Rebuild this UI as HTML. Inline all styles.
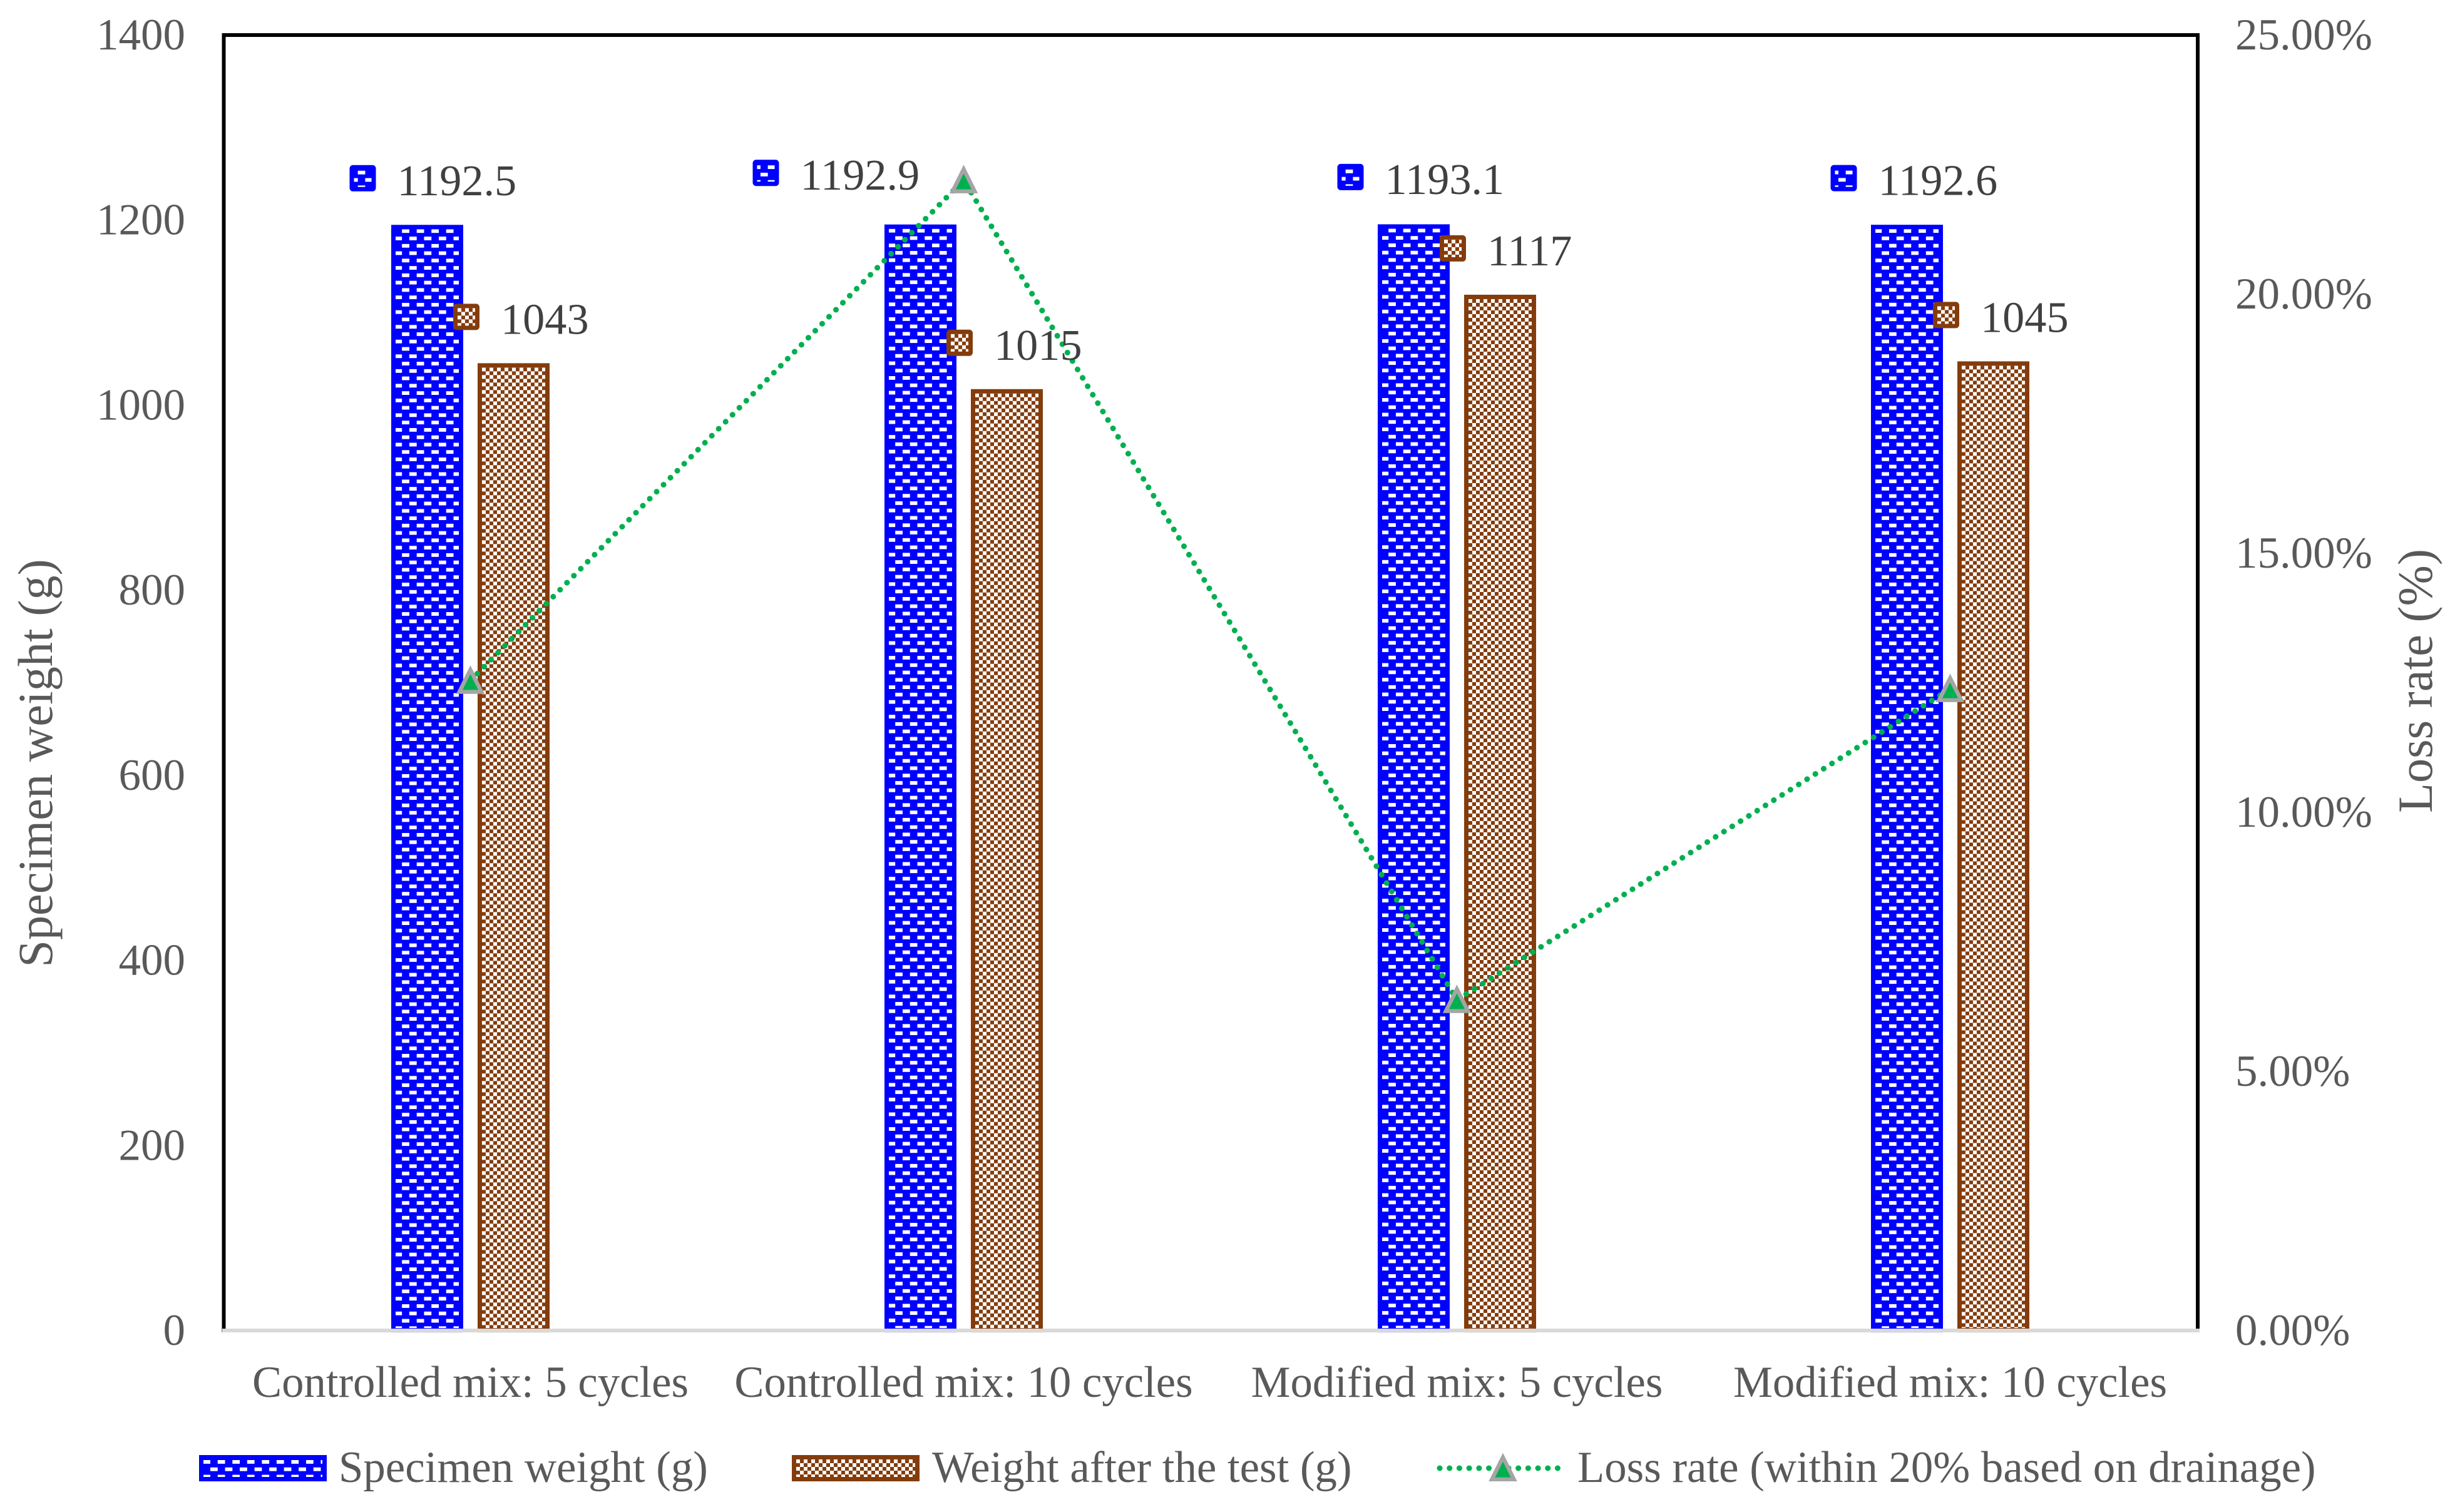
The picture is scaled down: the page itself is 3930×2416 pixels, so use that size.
<!DOCTYPE html>
<html lang="en">
<head>
<meta charset="utf-8">
<title>Specimen weight and loss rate chart</title>
<style>
html,body{margin:0;padding:0;background:#fff;}
svg{display:block;font-family:"Liberation Serif",serif;}
.tick{font-size:71px;fill:#595959;}
.x-tick{font-size:70.7px;fill:#595959;}
.legend-text{font-size:70.8px;fill:#595959;}
.axis-title{font-size:78.3px;fill:#595959;}
.data-label{font-size:70.3px;fill:#404040;}
</style>
</head>
<body>
<svg id="chart" xmlns="http://www.w3.org/2000/svg" width="3930" height="2416" viewBox="0 0 3930 2416">
  <defs>
    <pattern id="blue-bar-a" patternUnits="userSpaceOnUse" x="5.4" y="7" width="23.53" height="23.53">
      <rect width="23.53" height="23.53" fill="#0000ff" shape-rendering="crispEdges"/>
      <rect x="11.6" y="0" width="11.93" height="6" fill="#fff" shape-rendering="crispEdges"/>
      <rect x="0" y="11.77" width="12" height="6" fill="#fff" shape-rendering="crispEdges"/>
    </pattern>
    <pattern id="blue-bar-b" href="#blue-bar-a" x="17.2"></pattern>
    <pattern id="blue-marker-a" href="#blue-bar-a" x="1.4" y="9"></pattern>
    <pattern id="blue-marker-b" href="#blue-bar-a" x="12.4" y="9"></pattern>
    <pattern id="blue-legend" href="#blue-bar-a" x="18" y="8"></pattern>
    <pattern id="brown-check" patternUnits="userSpaceOnUse" x="7" y="7" width="12" height="12">
      <rect width="12" height="12" fill="#fff" shape-rendering="crispEdges"/>
      <rect x="6" y="0" width="6" height="6" fill="#843c0c" shape-rendering="crispEdges"/>
      <rect x="0" y="6" width="6" height="6" fill="#843c0c" shape-rendering="crispEdges"/>
    </pattern>
  </defs>
  <rect width="3930" height="2416" fill="#fff"/>
  <g id="bars"></g>
  <g id="axes">
    <rect x="357.5" y="56" width="3153.5" height="2070" fill="none" stroke="#000" stroke-width="6"/>
    <line x1="355" y1="2126" x2="3514" y2="2126" stroke="#d9d9d9" stroke-width="6"/>
  </g>
  <g id="y-left-ticks"></g>
  <g id="y-right-ticks"></g>
  <g id="x-ticks"></g>
  <text class="axis-title" text-anchor="middle" transform="translate(83,1219.5) rotate(-90)">Specimen weight (g)</text>
  <text class="axis-title" text-anchor="middle" transform="translate(3885,1088) rotate(-90)">Loss rate (%)</text>
  <g id="loss-series"></g>
  <g id="labels"></g>
  <g id="legend">
    <g>
      <rect transform="translate(318,2325)" x="3.5" y="3.5" width="197" height="35" fill="url(#blue-legend)" stroke="#0000ff" stroke-width="7"/>
      <text class="legend-text" x="541" y="2368">Specimen weight (g)</text>
    </g>
    <g>
      <rect transform="translate(1265,2325)" x="3.5" y="3.5" width="197" height="35" fill="url(#brown-check)" stroke="#843c0c" stroke-width="7"/>
      <text class="legend-text" x="1489" y="2368">Weight after the test (g)</text>
    </g>
    <g>
      <line x1="2300" y1="2346" x2="2495" y2="2346" stroke="#00b050" stroke-width="9" stroke-linecap="round" stroke-dasharray="0.1 15.6"/>
      <polygon transform="translate(2401,2346)" points="0,-17.5 -17.7,17.85 17.7,17.85" fill="#00b050" stroke="#a5a5a5" stroke-width="6.3"/>
      <text class="legend-text" x="2520" y="2368">Loss rate (within 20% based on drainage)</text>
    </g>
  </g>
</svg>
<script>
const categories = ["Controlled mix: 5 cycles", "Controlled mix: 10 cycles", "Modified mix: 5 cycles", "Modified mix: 10 cycles"];
const specimenWeight = [1192.5, 1192.9, 1193.1, 1192.6];
const weightAfterTest = [1043, 1015, 1117, 1045];
const lossRate = [12.54, 22.2, 6.38, 12.38];
const leftTickValues = [0, 200, 400, 600, 800, 1000, 1200, 1400];
const rightTickValues = [0, 5, 10, 15, 20, 25];

const NS = "http://www.w3.org/2000/svg";
const plotLeft = 357.5, bandWidth = 788, plotBottom = 2126, plotHeight = 2070;
const leftMax = 1400, rightMax = 25;
const barOffset = 69, barOuterWidth = 115;

// Manually placed data-label callouts, relative to each bar top.
const blueCalloutDx = [-103, -247, -101, -101];
const blueCalloutDy = [-78, -86, -79, -78];
const brownCalloutDx = -75.5, brownCalloutDy = -77.5;

function xBand(i) { return plotLeft + bandWidth * (i + 0.5); }
function yLeft(v) { return plotBottom - v * plotHeight / leftMax; }
function yRight(p) { return plotBottom - p * plotHeight / rightMax; }
function brickPhase(i) { return i % 2 === 0 ? "a" : "b"; }

function make(tag, attrs, parent, text) {
  const node = document.createElementNS(NS, tag);
  for (const k in attrs) node.setAttribute(k, attrs[k]);
  if (text !== undefined) node.textContent = text;
  parent.appendChild(node);
  return node;
}

const barsGroup = document.getElementById("bars");
const labelsGroup = document.getElementById("labels");
const leftGroup = document.getElementById("y-left-ticks");
const rightGroup = document.getElementById("y-right-ticks");
const xGroup = document.getElementById("x-ticks");
const lossGroup = document.getElementById("loss-series");

function drawBar(cx, value, fillId, strokeColor, name) {
  const top = yLeft(value);
  const r = make("rect", {
    transform: "translate(" + (cx - barOuterWidth / 2) + "," + (top - 3.5) + ")",
    x: 3.5, y: 3.5, width: barOuterWidth - 7, height: plotBottom - 0.4 - top,
    fill: "url(#" + fillId + ")", stroke: strokeColor, "stroke-width": 7
  }, barsGroup);
  
  
}

function drawCallout(mx, my, value, fillId, strokeColor, name) {
  const m = make("rect", {
    transform: "translate(" + (mx - 21) + "," + (my - 21) + ")",
    x: 3.5, y: 3.5, width: 35, height: 35, rx: 2,
    fill: "url(#" + fillId + ")", stroke: strokeColor, "stroke-width": 7
  }, labelsGroup);
  
  
  const t = make("text", { class: "data-label", x: mx + 55, y: my + 27 }, labelsGroup, String(value));
  
  
}

categories.forEach(function (cat, i) {
  const c = xBand(i);
  drawBar(c - barOffset, specimenWeight[i], "blue-bar-" + brickPhase(i), "#0000ff", "bar-specimen-weight-" + (i + 1));
  drawBar(c + barOffset, weightAfterTest[i], "brown-check", "#843c0c", "bar-weight-after-test-" + (i + 1));
  const label = make("text", { class: "x-tick", x: c, y: 2232, "text-anchor": "middle" }, xGroup, cat);
  
  
});

leftTickValues.forEach(function (v) {
  const t = make("text", { class: "tick", x: 296, y: yLeft(v) + 23, "text-anchor": "end" }, leftGroup, String(v));
  
  
});

rightTickValues.forEach(function (v) {
  const t = make("text", { class: "tick", x: 3571, y: yRight(v) + 23 }, rightGroup, v.toFixed(2) + "%");
  
  
});

const linePoints = lossRate.map(function (p, i) { return xBand(i) + "," + yRight(p); }).join(" ");
const lossLine = make("polyline", {
  points: linePoints, fill: "none", stroke: "#00b050", "stroke-width": 9,
  "stroke-linecap": "round", "stroke-dasharray": "0.1 15.6"
}, lossGroup);



lossRate.forEach(function (p, i) {
  const tri = make("polygon", {
    transform: "translate(" + xBand(i) + "," + yRight(p) + ")",
    points: "0,-17.5 -17.7,17.85 17.7,17.85", fill: "#00b050", stroke: "#a5a5a5", "stroke-width": 6.3
  }, lossGroup);
  
  
});

categories.forEach(function (cat, i) {
  const c = xBand(i);
  drawCallout(c - barOffset + blueCalloutDx[i], yLeft(specimenWeight[i]) + blueCalloutDy[i], specimenWeight[i], "blue-marker-" + brickPhase(i), "#0000ff", "specimen-weight-" + (i + 1));
  drawCallout(c + barOffset + brownCalloutDx, yLeft(weightAfterTest[i]) + brownCalloutDy, weightAfterTest[i], "brown-check", "#843c0c", "weight-after-test-" + (i + 1));
});
</script>
</body>
</html>
